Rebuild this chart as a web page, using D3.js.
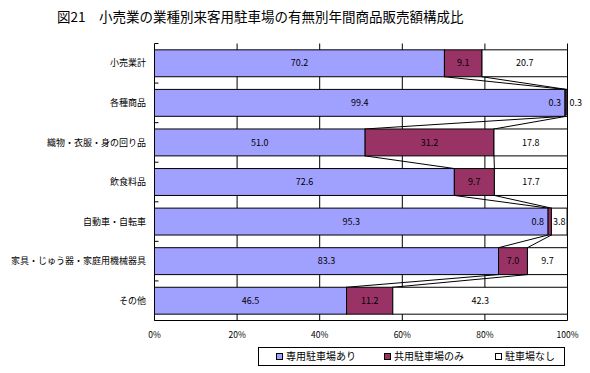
<!DOCTYPE html>
<html>
<head>
<meta charset="utf-8">
<script src="https://cdn.jsdelivr.net/npm/d3@7"></script>
<style>
  body { margin: 0; background: #fff; }
  svg { display: block; font-family: "Noto Sans CJK JP", sans-serif; }
</style>
</head>
<body>
<div id="chart"></div>
<script>
const categories = ['小売業計', '各種商品', '織物・衣服・身の回り品', '飲食料品', '自動車・自転車', '家具・じゅう器・家庭用機械器具', 'その他'];
const dedicated = [70.2, 99.4, 51.0, 72.6, 95.3, 83.3, 46.5];
const shared = [9.1, 0.3, 31.2, 9.7, 0.8, 7.0, 11.2];
const none = [20.7, 0.3, 17.8, 17.7, 3.8, 9.7, 42.3];
const seriesNames = ['専用駐車場あり', '共用駐車場のみ', '駐車場なし'];
const seriesColors = ['#a0a0ff', '#993366', '#ffffff'];
const xTicks = [0, 20, 40, 60, 80, 100];

const width = 590, height = 373;
const svg = d3.select('#chart').append('svg')
  .attr('width', width)
  .attr('height', height);

// title
svg.append('text')
  .attr('x', 57)
  .attr('y', 22)
  .attr('font-size', 13.5)
  .text('図21　小売業の業種別来客用駐車場の有無別年間商品販売額構成比');

const plotTop = 43.5, plotBottom = 320.5;
const x = d3.scaleLinear().domain([0, 100]).range([154.5, 567.5]);
const y = d3.scaleBand().domain(categories).range([plotTop, plotBottom]).paddingInner(0.32).paddingOuter(0.16);

const rows = categories.map((c, i) => {
  const vals = [dedicated[i], shared[i], none[i]];
  let acc = 0;
  const segs = vals.map((v, k) => {
    const s = { k, v, x0: acc, x1: acc + v };
    acc += v;
    return s;
  });
  return { c, segs };
});

// gridlines
svg.append('g')
  .selectAll('line')
  .data(xTicks.slice(1))
  .join('line')
  .attr('x1', d => x(d)).attr('x2', d => x(d))
  .attr('y1', plotTop).attr('y2', plotBottom)
  .attr('stroke', '#000');

// series lines between bars
const links = [];
for (let i = 0; i < rows.length - 1; i++) {
  for (let k = 0; k < 2; k++) {
    links.push({
      xa: rows[i].segs[k].x1, ya: y(rows[i].c) + y.bandwidth(),
      xb: rows[i + 1].segs[k].x1, yb: y(rows[i + 1].c)
    });
  }
}
svg.append('g')
  .selectAll('line')
  .data(links)
  .join('line')
  .attr('x1', d => x(d.xa)).attr('y1', d => d.ya)
  .attr('x2', d => x(d.xb)).attr('y2', d => d.yb)
  .attr('stroke', '#000');

// bars
const barG = svg.append('g')
  .selectAll('g')
  .data(rows)
  .join('g')
  .attr('transform', d => `translate(0,${y(d.c)})`);

barG.selectAll('rect')
  .data(d => d.segs)
  .join('rect')
  .attr('x', d => x(d.x0))
  .attr('y', 0)
  .attr('width', d => x(d.x1) - x(d.x0))
  .attr('height', y.bandwidth())
  .attr('fill', d => seriesColors[d.k])
  .attr('stroke', '#000');

// value labels (tiny segments get pushed outside)
const segW = d => x(d.x1) - x(d.x0);
barG.selectAll('text')
  .data(d => d.segs)
  .join('text')
  .attr('y', y.bandwidth() / 2)
  .attr('dy', '0.35em')
  .attr('font-size', 9)
  .attr('x', d => {
    if (segW(d) >= 10) return (x(d.x0) + x(d.x1)) / 2;
    return d.k === 2 ? x(d.x1) + 2 : x(d.x0) - 4;
  })
  .attr('text-anchor', d => {
    if (segW(d) >= 10) return 'middle';
    return d.k === 2 ? 'start' : 'end';
  })
  .text(d => d.v.toFixed(1));

// left axis
svg.append('line')
  .attr('x1', x(0)).attr('x2', x(0))
  .attr('y1', plotTop).attr('y2', plotBottom)
  .attr('stroke', '#000');
svg.append('g')
  .selectAll('line')
  .data(d3.range(categories.length + 1))
  .join('line')
  .attr('x1', x(0)).attr('x2', x(0) + 4)
  .attr('y1', i => plotTop + i * (plotBottom - plotTop) / categories.length)
  .attr('y2', i => plotTop + i * (plotBottom - plotTop) / categories.length)
  .attr('stroke', '#000');

svg.append('g')
  .selectAll('text')
  .data(categories)
  .join('text')
  .attr('x', 146)
  .attr('y', d => y(d) + y.bandwidth() / 2)
  .attr('dy', '0.35em')
  .attr('text-anchor', 'end')
  .attr('font-size', 9)
  .text(d => d);

// bottom axis
svg.append('line')
  .attr('x1', x(0)).attr('x2', x(100))
  .attr('y1', plotBottom).attr('y2', plotBottom)
  .attr('stroke', '#000');
svg.append('g')
  .selectAll('text')
  .data(xTicks)
  .join('text')
  .attr('x', d => x(d))
  .attr('y', 335)
  .attr('dy', '0.35em')
  .attr('text-anchor', 'middle')
  .attr('font-size', 8.5)
  .text(d => d + '%');

// legend
const legend = svg.append('g');
legend.append('rect')
  .attr('x', 258.5).attr('y', 347.5)
  .attr('width', 306).attr('height', 18)
  .attr('fill', '#fff').attr('stroke', '#000');
const legendX = [276, 384, 495];
const item = legend.selectAll('g.item')
  .data(seriesNames)
  .join('g')
  .attr('class', 'item')
  .attr('transform', (d, i) => `translate(${legendX[i]},356.5)`);
item.append('rect')
  .attr('x', 0.5).attr('y', -3)
  .attr('width', 6).attr('height', 6)
  .attr('fill', (d, i) => seriesColors[i])
  .attr('stroke', '#000');
item.append('text')
  .attr('x', 10)
  .attr('dy', '0.35em')
  .attr('font-size', 10)
  .text(d => d);
</script>
</body>
</html>
